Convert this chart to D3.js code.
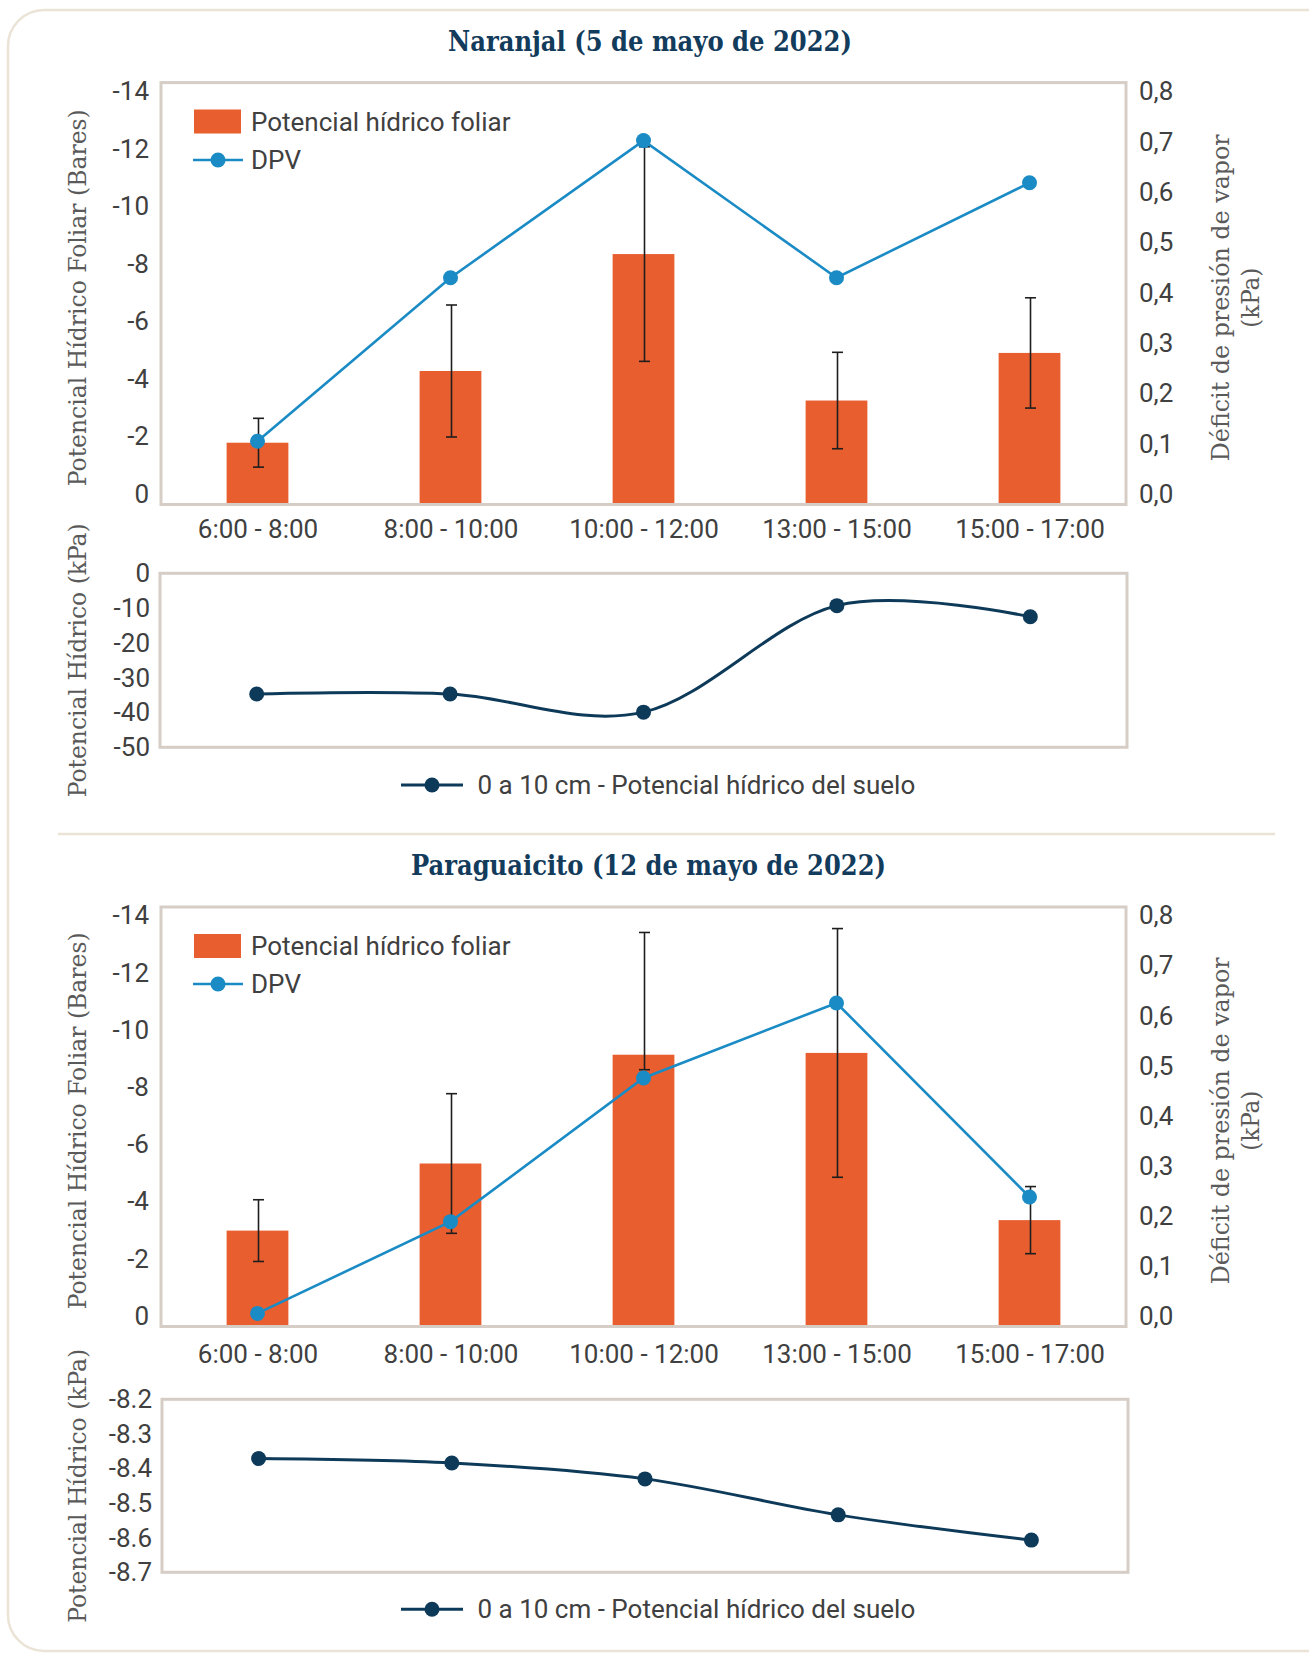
<!DOCTYPE html>
<html><head><meta charset="utf-8">
<script src="https://cdn.jsdelivr.net/npm/d3@7"></script>
<style>body{margin:0;background:#fff} svg{display:block}</style>
</head><body>
<svg id="c" width="1309" height="1653"></svg>
<script>
// ---------- DATA ----------
const categories = ["6:00 - 8:00", "8:00 - 10:00", "10:00 - 12:00", "13:00 - 15:00", "15:00 - 17:00"];

const naranjalTitle = "Naranjal (5 de mayo de 2022)";
const naranjalFoliar = [-2.05, -4.43, -8.31, -3.45, -5.03];
const naranjalErrUp = [0.81, 2.19, 3.56, 1.6, 1.83];
const naranjalErrDown = [0.81, 2.19, 3.56, 1.6, 1.83];
const naranjalDPV = [0.12, 0.43, 0.69, 0.43, 0.61];
const naranjalSuelo = [-34.7, -34.7, -39.9, -9.3, -12.5];

const paraTitle = "Paraguaicito (12 de mayo de 2022)";
const paraFoliar = [-3.2, -5.44, -9.07, -9.13, -3.55];
const paraErrUp = [1.03, 2.33, 4.08, 4.15, 1.12];
const paraErrDown = [1.03, 2.33, 0.5, 4.15, 1.12];
const paraDPV = [0.025, 0.2, 0.474, 0.617, 0.247];
const paraSuelo = [-8.371, -8.384, -8.43, -8.534, -8.607];

const foliarTicks = [0, -2, -4, -6, -8, -10, -12, -14];
const dpvTicks = [0, 0.1, 0.2, 0.3, 0.4, 0.5, 0.6, 0.7, 0.8];
const naranjalSueloTicks = [0, -10, -20, -30, -40, -50];
const paraSueloTicks = [-8.2, -8.3, -8.4, -8.5, -8.6, -8.7];

const legendFoliar = "Potencial hídrico foliar";
const legendDPV = "DPV";
const legendSuelo = "0 a 10 cm - Potencial hídrico del suelo";
const axisFoliar = "Potencial Hídrico Foliar (Bares)";
const axisDPV1 = "Déficit de presión de vapor";
const axisDPV2 = "(kPa)";
const axisSuelo = "Potencial Hídrico (kPa)";

// ---------- STYLE ----------
const C = {orange:"#e95e2f", blue:"#1a8bc4", navy:"#0e3a5a", frame:"#d6cec6",
           text:"#404040", axisTitle:"#5a5a5a", card:"#ebe3d6", title:"#123b5c", err:"#1e1e1e"};
const SANS = "Roboto, 'Noto Sans', sans-serif";
const SERIF = "'DejaVu Serif Condensed', 'DejaVu Serif', serif";
const FS = 26;

const svg = d3.select("#c");
svg.append("rect").attr("x", 8).attr("y", 10).attr("width", 1400).attr("height", 1641)
  .attr("rx", 36).attr("fill", "#fff").attr("stroke", C.card).attr("stroke-width", 2.5);
svg.append("line").attr("x1", 58).attr("x2", 1275).attr("y1", 834).attr("y2", 834)
  .attr("stroke", C.card).attr("stroke-width", 2.5);

const panels = [
  {title: naranjalTitle, titleX: 650, titleY: 50.5, titleLen: 404,
   foliar: naranjalFoliar, errUp: naranjalErrUp, errDown: naranjalErrDown, dpv: naranjalDPV,
   suelo: naranjalSuelo, sueloDomain: [-50, 0], sueloTicks: naranjalSueloTicks, sueloFmt: d => String(d),
   frame: {l:161, r:1126, t:82.6, b:504.5}, labelRange: [494, 91.5], legendY: [121.5, 160],
   xLabelY: 529, soil: {l:160, r:1127, t:573.3, b:747.3}, soilLegendY: 785},
  {title: paraTitle, titleX: 648.5, titleY: 874.5, titleLen: 475,
   foliar: paraFoliar, errUp: paraErrUp, errDown: paraErrDown, dpv: paraDPV,
   suelo: paraSuelo, sueloDomain: [-8.7, -8.2], sueloTicks: paraSueloTicks, sueloFmt: d => d.toFixed(1),
   frame: {l:161, r:1126, t:907, b:1326.5}, labelRange: [1316, 915.6], legendY: [946, 984],
   xLabelY: 1354.5, soil: {l:162, r:1128, t:1399.3, b:1572.3}, soilLegendY: 1609.3}
];

function rotTitle(g, text, x, y, len) {
  g.append("text").attr("transform", `translate(${x},${y}) rotate(-90)`)
    .attr("text-anchor", "middle").attr("font-family", SERIF).attr("font-size", 25)
    .attr("fill", C.axisTitle).attr("textLength", len).attr("lengthAdjust", "spacingAndGlyphs")
    .text(text);
}

panels.forEach(p => {
  const g = svg.append("g");
  const f = p.frame;
  // Title
  g.append("text").attr("x", p.titleX).attr("y", p.titleY).attr("text-anchor", "middle")
    .attr("font-family", SERIF).attr("font-weight", "bold").attr("font-size", 27)
    .attr("fill", C.title).attr("textLength", p.titleLen).attr("lengthAdjust", "spacingAndGlyphs")
    .text(p.title);

  const x = d3.scalePoint().domain(categories).range([f.l, f.r]).padding(0.5);
  const bw = x.step() * 0.32;
  const y = d3.scaleLinear().domain([0, -14]).range([f.b, f.t]);
  const yLab = d3.scaleLinear().domain([0, -14]).range(p.labelRange);
  const y2 = d3.scaleLinear().domain([0, 0.8]).range([f.b, f.t]);
  const y2Lab = d3.scaleLinear().domain([0, 0.8]).range(p.labelRange);

  g.append("rect").attr("x", f.l).attr("y", f.t).attr("width", f.r - f.l).attr("height", f.b - f.t)
    .attr("fill", "#fff");

  // bars
  g.selectAll(".bar").data(p.foliar).join("rect")
    .attr("x", (d, i) => x(categories[i]) - bw / 2).attr("width", bw)
    .attr("y", d => y(d)).attr("height", d => y(0) - y(d)).attr("fill", C.orange);

  // frame
  g.append("rect").attr("x", f.l).attr("y", f.t).attr("width", f.r - f.l).attr("height", f.b - f.t)
    .attr("fill", "none").attr("stroke", C.frame).attr("stroke-width", 3);

  // error bars
  const eg = g.append("g").attr("stroke", C.err).attr("stroke-width", 1.6);
  p.foliar.forEach((d, i) => {
    const cx = x(categories[i]) + 1;
    const top = y(d - p.errUp[i]), bot = y(d + p.errDown[i]);
    eg.append("line").attr("x1", cx).attr("x2", cx).attr("y1", top).attr("y2", bot);
    eg.append("line").attr("x1", cx - 5.5).attr("x2", cx + 5.5).attr("y1", top).attr("y2", top);
    eg.append("line").attr("x1", cx - 5.5).attr("x2", cx + 5.5).attr("y1", bot).attr("y2", bot);
  });

  // DPV line
  const line = d3.line().x((d, i) => x(categories[i])).y(d => y2(d));
  g.append("path").datum(p.dpv).attr("d", line).attr("fill", "none")
    .attr("stroke", C.blue).attr("stroke-width", 2.6);
  g.selectAll(".dpv").data(p.dpv).join("circle")
    .attr("cx", (d, i) => x(categories[i])).attr("cy", d => y2(d)).attr("r", 7.5).attr("fill", C.blue);

  // axes
  const axL = g.append("g").attr("transform", `translate(${f.l},0)`)
    .call(d3.axisLeft(yLab).tickValues(foliarTicks).tickFormat(d => String(d)).tickSize(0).tickPadding(12));
  const axR = g.append("g").attr("transform", `translate(${f.r},0)`)
    .call(d3.axisRight(y2Lab).tickValues(dpvTicks).tickFormat(d => d.toFixed(1).replace(".", ",")).tickSize(0).tickPadding(13));
  const axB = g.append("g").attr("transform", `translate(0,${f.b})`)
    .call(d3.axisBottom(x).tickSize(0).tickPadding(p.xLabelY - f.b - 9.5));
  [axL, axR, axB].forEach(a => {
    a.select(".domain").remove();
    a.selectAll("text").attr("font-family", SANS).attr("font-size", FS).attr("fill", C.text);
  });

  // legend
  const lg = g.append("g").attr("font-family", SANS).attr("font-size", FS).attr("fill", C.text);
  lg.append("rect").attr("x", 194).attr("y", p.legendY[0] - 12).attr("width", 47).attr("height", 24).attr("fill", C.orange);
  lg.append("text").attr("x", 251).attr("y", p.legendY[0]).attr("dy", "0.35em").text(legendFoliar);
  lg.append("line").attr("x1", 193).attr("x2", 243).attr("y1", p.legendY[1]).attr("y2", p.legendY[1])
    .attr("stroke", C.blue).attr("stroke-width", 2.6);
  lg.append("circle").attr("cx", 218).attr("cy", p.legendY[1]).attr("r", 7.5).attr("fill", C.blue);
  lg.append("text").attr("x", 251).attr("y", p.legendY[1]).attr("dy", "0.35em").text(legendDPV);

  // axis titles
  const cy = (p.labelRange[0] + p.labelRange[1]) / 2 + 5;
  rotTitle(g, axisFoliar, 86, cy, 377);
  rotTitle(g, axisDPV1, 1229, cy, 327);
  rotTitle(g, axisDPV2, 1259, cy, 60);

  // ---------- soil chart ----------
  const s = p.soil;
  const xs = d3.scalePoint().domain(categories).range([s.l, s.r]).padding(0.5);
  const ys = d3.scaleLinear().domain(p.sueloDomain).range([s.b, s.t]);
  g.append("rect").attr("x", s.l).attr("y", s.t).attr("width", s.r - s.l).attr("height", s.b - s.t)
    .attr("fill", "#fff").attr("stroke", C.frame).attr("stroke-width", 3);
  const sl = d3.line().x((d, i) => xs(categories[i])).y(d => ys(d)).curve(d3.curveCardinal.tension(0));
  g.append("path").datum(p.suelo).attr("d", sl).attr("fill", "none")
    .attr("stroke", C.navy).attr("stroke-width", 3);
  g.selectAll(".soil").data(p.suelo).join("circle")
    .attr("cx", (d, i) => xs(categories[i])).attr("cy", d => ys(d)).attr("r", 7.5).attr("fill", C.navy);
  const axS = g.append("g").attr("transform", `translate(${s.l},0)`)
    .call(d3.axisLeft(ys).tickValues(p.sueloTicks).tickFormat(p.sueloFmt).tickSize(0).tickPadding(10));
  axS.select(".domain").remove();
  axS.selectAll("text").attr("font-family", SANS).attr("font-size", FS).attr("fill", C.text);
  rotTitle(g, axisSuelo, 86, (s.t + s.b) / 2, 274);

  // soil legend
  const sg = g.append("g");
  sg.append("line").attr("x1", 401).attr("x2", 463).attr("y1", p.soilLegendY).attr("y2", p.soilLegendY)
    .attr("stroke", C.navy).attr("stroke-width", 3);
  sg.append("circle").attr("cx", 432).attr("cy", p.soilLegendY).attr("r", 7.5).attr("fill", C.navy);
  sg.append("text").attr("x", 477.5).attr("y", p.soilLegendY).attr("dy", "0.35em")
    .attr("font-family", SANS).attr("font-size", FS).attr("fill", C.text).text(legendSuelo);
});
</script>
</body></html>
